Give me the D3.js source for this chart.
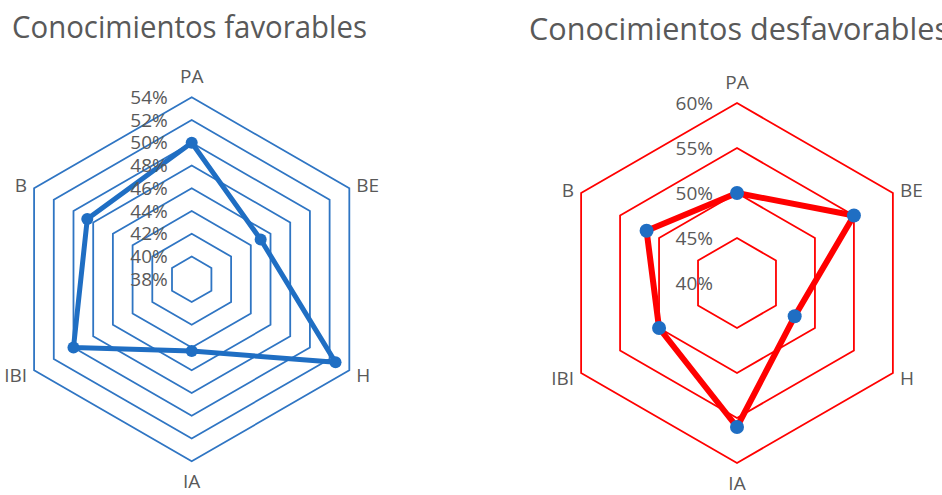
<!DOCTYPE html>
<html>
<head>
<meta charset="utf-8">
<script src="https://cdn.jsdelivr.net/npm/d3@7"></script>
<style>
  html, body { margin: 0; padding: 0; background: #fff; overflow: hidden; }
  svg { display: block; }
  text { font-family: "Open Sans", sans-serif; fill: #595959; }
</style>
</head>
<body>
<svg id="chart" width="942" height="495"></svg>
<script>
// ---- data ----
const categories = ["PA", "BE", "H", "IA", "IBI", "B"];
const favorables = [50, 45, 52.6, 44.3, 50, 48.6];
const desfavorables = [50, 55, 47.4, 56, 50, 51.6];
const favTicks = [38, 40, 42, 44, 46, 48, 50, 52, 54];
const desTicks = [40, 45, 50, 55, 60];
const titles = ["Conocimientos favorables", "Conocimientos desfavorables"];

const svg = d3.select("#chart");

const charts = [
  { title: titles[0], values: favorables, ticks: favTicks, cx: 191.7, cy: 279.3, R: 182,
    grid: "#2F75C3", line: "#1F6EC3", marker: "#1F6EC3", lw: 5, mr: 6, tx: 12, ty: 38, tw: 355 },
  { title: titles[1], values: desfavorables, ticks: desTicks, cx: 737, cy: 283, R: 180,
    grid: "#FF0000", line: "#FF0000", marker: "#1F6EC3", lw: 6, mr: 7, tx: 529, ty: 40, tw: 420 }
];

const n = categories.length;
const angle = i => i * 2 * Math.PI / n;

charts.forEach((c, ci) => {
  const r = d3.scaleLinear().domain([c.ticks[0], c.ticks[c.ticks.length - 1]]).range([0, c.R]);
  const g = svg.append("g").attr("transform", `translate(${c.cx},${c.cy})`);

  const ringLine = d3.lineRadial().angle((d, i) => angle(i)).radius(d => r(d)).curve(d3.curveLinearClosed);

  // grid rings (skip the center value)
  g.selectAll("path.ring").data(c.ticks.slice(1)).join("path")
    .attr("class", "ring")
    .attr("d", t => ringLine(categories.map(() => t)))
    .attr("fill", "none")
    .attr("stroke", c.grid)
    .attr("stroke-width", 1.8);

  // data line
  g.append("path")
    .attr("d", ringLine(c.values))
    .attr("fill", "none")
    .attr("stroke", c.line)
    .attr("stroke-width", c.lw)
    .attr("stroke-linejoin", "round");

  // markers
  g.selectAll("circle.pt").data(c.values).join("circle")
    .attr("class", "pt")
    .attr("cx", (d, i) => r(d) * Math.sin(angle(i)))
    .attr("cy", (d, i) => -r(d) * Math.cos(angle(i)))
    .attr("r", c.mr)
    .attr("fill", c.marker);

  // tick labels
  g.selectAll("text.tick").data(c.ticks).join("text")
    .attr("class", "tick")
    .attr("x", -24)
    .attr("y", t => -r(t))
    .attr("dy", "0.35em")
    .attr("text-anchor", "end")
    .attr("font-size", 19)
    .text(t => t + "%");

  // category labels
  g.selectAll("text.cat").data(categories).join("text")
    .attr("class", "cat")
    .attr("font-size", 19)
    .each(function (d, i) {
      const a = angle(i);
      const vx = c.R * Math.sin(a), vy = -c.R * Math.cos(a);
      const sel = d3.select(this);
      if (i === 0) {
        sel.attr("x", 0).attr("y", vy - 14).attr("text-anchor", "middle");
      } else if (i === 3) {
        sel.attr("x", 0).attr("y", vy + 27).attr("text-anchor", "middle");
      } else {
        const right = vx > 0;
        sel.attr("x", vx + (right ? 7 : -7))
           .attr("y", vy + (vy < 0 ? -3 : 5))
           .attr("dy", "0.35em")
           .attr("text-anchor", right ? "start" : "end");
      }
    })
    .text(d => d);
});

// titles
charts.forEach(c => {
  svg.append("text")
    .attr("x", c.tx).attr("y", c.ty)
    .attr("font-size", 31)
    .attr("textLength", c.tw)
    .attr("lengthAdjust", "spacingAndGlyphs")
    .text(c.title);
});
</script>
</body>
</html>
